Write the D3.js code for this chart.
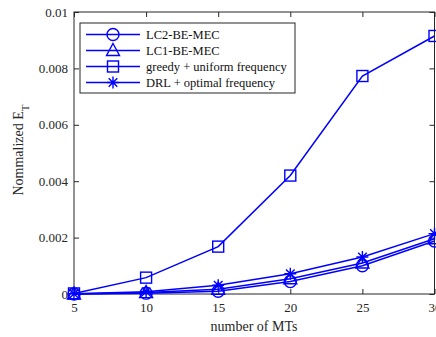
<!DOCTYPE html>
<html><head><meta charset="utf-8">
<script src="https://cdn.jsdelivr.net/npm/d3@7"></script>
<style>body{margin:0;background:#fff;}svg{display:block;}</style>
</head><body>
<svg id="c" width="436" height="337"></svg>
<script>
const mts = [5, 10, 15, 20, 25, 30];
const lc2 = [0.00000, 0.00003, 0.00010, 0.00044, 0.00100, 0.00188];
const lc1 = [0.00000, 0.00005, 0.00017, 0.00054, 0.00110, 0.00196];
const greedy = [0.00002, 0.00058, 0.00168, 0.00420, 0.00773, 0.00915];
const drl = [0.00001, 0.00008, 0.00031, 0.00072, 0.00131, 0.00214];
const seriesNames = ["LC2-BE-MEC", "LC1-BE-MEC", "greedy + uniform frequency", "DRL + optimal frequency"];
const seriesMarkers = ["circle", "triangle", "square", "star"];
const xTicks = [5, 10, 15, 20, 25, 30];
const yTicks = [0, 0.002, 0.004, 0.006, 0.008, 0.01];
const yTickLabels = ["0", "0.002", "0.004", "0.006", "0.008", "0.01"];

const FONT = "Liberation Serif";
const series = [lc2, lc1, greedy, drl];
const blue = "#0000ff", axc = "#262626";
const L = 74, R = 434.5, T = 12, B = 294;
const svg = d3.select("#c");
const x = d3.scaleLinear().domain([5, 30]).range([L, R]);
const y = d3.scaleLinear().domain([0, 0.01]).range([B, T]);

function marker(g, type, cx, cy) {
  const s = g.append("g").attr("transform", `translate(${cx},${cy})`)
    .attr("fill", "none").attr("stroke", blue).attr("stroke-width", 1.4);
  if (type === "circle") s.append("circle").attr("r", 6);
  else if (type === "triangle") s.append("path").attr("d", "M0,-7L6.5,5L-6.5,5Z");
  else if (type === "square") s.append("rect").attr("x", -5.5).attr("y", -5.5).attr("width", 11).attr("height", 11);
  else if (type === "star") {
    s.append("path").attr("d", "M0,-6V6M-6,0H6M-4.3,-4.3L4.3,4.3M-4.3,4.3L4.3,-4.3");
  }
}

// axes
const gx = svg.append("g").attr("transform", `translate(0,${B})`)
  .call(d3.axisBottom(x).tickValues(xTicks).tickSize(-5).tickPadding(9).tickFormat(d3.format("d")));
const gy = svg.append("g").attr("transform", `translate(${L},0)`)
  .call(d3.axisLeft(y).tickValues(yTicks).tickSize(-5).tickPadding(6).tickFormat((d, i) => yTickLabels[i]));
const gt = svg.append("g").attr("transform", `translate(0,${T})`)
  .call(d3.axisTop(x).tickValues(xTicks).tickSize(-5).tickFormat(""));
const gr = svg.append("g").attr("transform", `translate(${R},0)`)
  .call(d3.axisRight(y).tickValues(yTicks).tickSize(-5).tickFormat(""));
[gx, gy, gt, gr].forEach(g => {
  g.attr("font-family", FONT);
  g.selectAll("path,line").attr("stroke", axc).attr("stroke-width", 1);
  g.selectAll("text").attr("fill", axc).attr("font-size", 13).attr("font-family", FONT);
  g.select(".domain").remove();
});
svg.append("rect").attr("x", L).attr("y", T).attr("width", R - L).attr("height", B - T)
  .attr("fill", "none").attr("stroke", axc).attr("stroke-width", 1);

// lines
const line = d3.line().x((d, i) => x(mts[i])).y(d => y(d));
series.forEach((s, k) => {
  svg.append("path").datum(s).attr("d", line).attr("fill", "none")
    .attr("stroke", blue).attr("stroke-width", 1.5);
  s.forEach((v, i) => marker(svg, seriesMarkers[k], x(mts[i]), y(v)));
});

// legend
const lg = svg.append("g");
lg.append("rect").attr("x", 80).attr("y", 23).attr("width", 215).attr("height", 70)
  .attr("fill", "#fff").attr("stroke", axc).attr("stroke-width", 1);
const ly = [34.5, 50.5, 66.5, 82.5];
seriesNames.forEach((n, k) => {
  lg.append("line").attr("x1", 86).attr("x2", 140).attr("y1", ly[k]).attr("y2", ly[k])
    .attr("stroke", blue).attr("stroke-width", 1.5);
  marker(lg, seriesMarkers[k], 113, ly[k]);
  lg.append("text").attr("x", 146).attr("y", ly[k]).attr("dy", "0.35em")
    .attr("font-family", FONT).attr("font-size", 12.5).attr("fill", "#111").text(n);
});

// axis labels
svg.append("text").attr("x", 254).attr("y", 331).attr("text-anchor", "middle")
  .attr("font-family", FONT).attr("font-size", 14).attr("fill", axc).text("number of MTs");
const yl = svg.append("text").attr("transform", "translate(23,150) rotate(-90)")
  .attr("text-anchor", "middle").attr("font-family", FONT).attr("font-size", 14).attr("fill", axc);
yl.append("tspan").text("Nommalized E");
yl.append("tspan").attr("baseline-shift", "sub").attr("font-size", 11).text("T");
</script>
</body></html>
